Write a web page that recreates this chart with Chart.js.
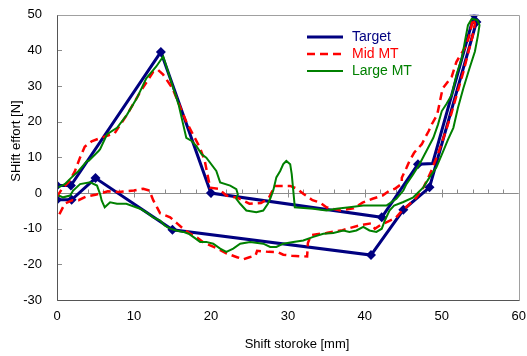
<!DOCTYPE html>
<html>
<head>
<meta charset="utf-8">
<script src="https://cdn.jsdelivr.net/npm/chart.js@4/dist/chart.umd.min.js"></script>
<style>
html, body { margin: 0; padding: 0; background: #fff }
canvas { display: block }
</style>
</head>
<body>
<canvas id="chart" width="527" height="356"></canvas>
<script>
// series (x = shift stroke mm, y = effort N)
const targetX = [0, 1.8, 13.5, 20, 42.2, 46.9, 48.8, 54.2, 54.5, 48.4, 45, 40.8, 15, 5, 1.9, 0]
const targetY = [2.1, 2.1, 39.6, 0, -6.8, 8.1, 8.3, 50, 48, 1.6, -4.7, -17.4, -10.3, 4.2, -1.9, -1.9]

const midX = [0, 0.6, 1.5, 2.3, 3, 3.6, 4.5, 5.6, 7.5, 9.1, 10.8, 12.5, 13.1, 13.8, 15, 16.8, 18.6, 19.2, 19.9, 21, 22, 23.4, 25, 26.5, 27.5, 28.3, 29.4, 30.3, 31.2, 32, 33.2, 34.2, 35, 36.8, 38.5, 39.7, 41, 42.3, 43.2, 43.9, 44.8, 44.8, 45.4, 45.8, 46.4, 47.4, 47.8, 48.3, 48.7, 49.4, 50.1, 51.3, 51.9, 52.7, 53.2, 53.7, 54,
  54.3, 54, 53.5, 52.8, 52, 51.2, 50.3, 49.5, 48.6, 47.6, 46.6, 45.6, 44.6, 44, 43, 42, 41.3, 40.8, 39.4, 37.1, 35, 33, 32.6, 32.5, 30.5, 29.4, 28.7, 27.5, 26, 25.8, 25, 24.2, 23.4, 22, 20.8, 19.9, 19, 18.2, 17.3, 16.4, 15.6, 14.7, 13.4, 13, 12.5, 12, 11.2, 10, 8, 6.6, 5, 3.8, 2.8, 2, 1, 0.3]
const midY = [-1, 1, 3, 6, 10, 13, 14.5, 15.4, 16.8, 22, 28.3, 34, 34.6, 33.2, 29.4, 20, 12.6, 9, 1.5, 1.2, -0.7, -1.3, -3, -2.8, -1.5, 2, 2, 2, 1.2, -0.2, -2, -2.7, -4, -4.9, -4.3, -2.7, -1.6, -0.7, 0.7, 1.2, 2.6, 4.3, 7, 9, 11.3, 13.7, 15.4, 17.4, 19.3, 22, 29.3, 32.7, 36.8, 39.7, 41.6, 45, 48.9,
  47.5, 44, 40, 34, 28, 22, 16, 11, 6, 1.5, -1.5, -3.5, -5.5, -7, -8, -9, -10, -8.5, -9, -10.4, -11.2, -11.8, -14, -17.8, -17.6, -17.3, -16.6, -16.5, -16.2, -17.5, -18, -18.6, -18, -16.9, -15.5, -14.7, -13.8, -12.5, -11.4, -10, -8.5, -6.8, -5.7, -4, -2, 0.7, 1.2, 0.7, 0.3, 0.5, -0.5, -1, -2, -2, -3, -6]

const largeX = [0.2, 1, 1.9, 2.8, 3.9, 4.1, 5.4, 5.6, 6.5, 7.8, 9.1, 10.4, 11.6, 12.9, 13.8, 14.7, 15.8, 16.4, 16.8, 17.5, 18.1, 18.8, 19.4, 20.7, 21.2, 22.5, 23.3, 23.5, 23.3, 23.8, 24.6, 25.9, 26.8, 27.4, 27.7, 28.1, 28.5, 29, 29.4, 29.8, 30.3, 30.5, 30.7, 30.9, 33.3, 35, 36.3, 38, 39.8, 41.5, 42.8, 44.1, 45, 45.4, 46.2, 47.1, 48, 48.9, 49.5, 50, 50.6, 51.3, 51.9, 52.6, 53, 53.4, 53.9,
  54.6, 54.9, 54.7, 54.3, 53.6, 52.8, 52.1, 51.5, 50.8, 50.2, 49.3, 48.4, 47.6, 46.3, 45, 43.8, 43.2, 42.6, 42.2, 41.5, 40.6, 39.8, 38.9, 38, 37.2, 35.9, 34.6, 33.3, 32, 30.7, 29.4, 28.5, 27.7, 26.8, 25.1, 23.8, 22.9, 22, 21.2, 20.3, 19.4, 18.6, 17.7, 17.1, 16.4, 15.5, 14.7, 14, 13.4, 12.5, 11.6, 10.8, 9, 7.8, 6.9, 6.2, 5.8, 5.6, 5.2, 4.3, 3, 2.1, 1.7, 0.8, 0.2]
const largeY = [1.6, 2.5, 4.4, 6.2, 9, 9, 11.8, 12.3, 16.5, 18.3, 22, 26.7, 32.2, 35.5, 38.3, 32.2, 24.8, 19.2, 15.5, 14.6, 13.2, 10.9, 9.9, 6.2, 3, 2.1, 1.1, -0.3, -1.6, -3, -4.9, -5.4, -4.9, -3, -1.6, 0.7, 4.4, 6.2, 8.1, 9, 8.1, 5.3, 0.7, -4, -4.4, -4.9, -4.4, -4, -3.5, -3.5, -3.5, -1.6, 0.7, 2.5, 5, 8.1, 11.8, 15.5, 19.2, 23, 25, 27.6, 33.2, 37.8, 42.5, 47.1, 48.9,
  48.5, 47.1, 44.3, 39.7, 35, 29.4, 23.9, 18.3, 15, 11.8, 7.2, 4.4, 1.6, -1.2, -2.5, -3.5, -4.9, -7.7, -10, -10.9, -10.5, -9.5, -10.5, -10.9, -10.5, -11.2, -11.4, -12.3, -13.3, -13.7, -14.2, -15.1, -15.1, -14.2, -13.7, -14.2, -15.6, -16.5, -15.6, -14.2, -13.7, -13.7, -12.3, -11.4, -10.9, -10.5, -10, -9.1, -7.7, -6.8, -5.4, -4.4, -3, -3, -2.6, -4, -2.1, -0.3, 2.1, 3, 2.5, 0.7, -0.7, -1.2, -0.7]

const seriesNames = ["Target", "Mid MT", "Large MT"]
const xTicks = [0, 10, 20, 30, 40, 50, 60]
const yTicks = [-30, -20, -10, 0, 10, 20, 30, 40, 50]
const xTitle = "Shift storoke [mm]"
const yTitle = "SHift effort [N]"

const NAVY = "#000080", RED = "#ff0000", GREEN = "#008000"
const FONT = "'Liberation Sans', Arial, sans-serif"

const toPts = (xs, ys) => xs.map((x, i) => ({ x, y: ys[i] }))

// zero line, plot frame, inside ticks, axis titles and the floating legend
const frame = {
  id: "frame",
  beforeDatasetsDraw(chart) {
    const { ctx, chartArea: a, scales: { x, y } } = chart
    const y0 = Math.round(y.getPixelForValue(0)) + 0.5
    ctx.save()
    ctx.strokeStyle = "#8c8c8c"
    ctx.lineWidth = 1
    ctx.beginPath()
    ctx.moveTo(a.left, y0); ctx.lineTo(a.right, y0)
    for (let v = 0; v <= 60; v += 2) {
      const px = Math.round(x.getPixelForValue(v)) + 0.5
      if (v % 10 === 0) { ctx.moveTo(px, y0 - 4); ctx.lineTo(px, y0 + 4) }
      else { ctx.moveTo(px, y0 - 4); ctx.lineTo(px, y0) }
    }
    yTicks.forEach(v => {
      const py = Math.round(y.getPixelForValue(v)) + 0.5
      ctx.moveTo(a.left, py); ctx.lineTo(a.left + 5, py)
    })
    ctx.stroke()
    ctx.restore()
  },
  afterDraw(chart) {
    const { ctx, chartArea: a } = chart
    const L = Math.round(a.left) + 0.5, R = Math.round(a.right) + 0.5
    const T = Math.round(a.top) + 0.5, B = Math.round(a.bottom) + 0.5
    ctx.save()
    ctx.lineWidth = 1
    ctx.strokeStyle = "#a0a0a0"
    ctx.beginPath()
    ctx.moveTo(L, T); ctx.lineTo(R, T); ctx.lineTo(R, B)
    ctx.stroke()
    ctx.strokeStyle = "#555"
    ctx.beginPath()
    ctx.moveTo(L, T); ctx.lineTo(L, B); ctx.lineTo(R, B)
    ctx.stroke()

    // axis titles
    ctx.fillStyle = "#000"
    ctx.font = "13px " + FONT
    ctx.textAlign = "center"
    ctx.textBaseline = "middle"
    ctx.fillText(xTitle, 297, 344)
    ctx.save()
    ctx.translate(16, 141)
    ctx.rotate(-Math.PI / 2)
    ctx.fillText(yTitle, 0, 0)
    ctx.restore()

    // legend
    ctx.font = "14px " + FONT
    ctx.textAlign = "left"
    chart.data.datasets.forEach((ds, i) => {
      const ly = 37 + i * 17
      ctx.strokeStyle = ds.borderColor
      ctx.lineWidth = ds.borderWidth
      ctx.setLineDash(ds.borderDash || [])
      ctx.beginPath()
      ctx.moveTo(307, ly); ctx.lineTo(343, ly)
      ctx.stroke()
      ctx.setLineDash([])
      ctx.fillStyle = ds.borderColor
      ctx.fillText(ds.label, 352, ly)
    })
    ctx.restore()
  }
}

new Chart(document.getElementById("chart"), {
  type: "line",
  data: {
    datasets: [
      {
        label: seriesNames[0],
        data: toPts(targetX, targetY),
        borderColor: NAVY,
        backgroundColor: NAVY,
        borderWidth: 3,
        pointStyle: "rectRot",
        pointRadius: c => c.dataIndex === 6 ? 0 : 5,
        pointBorderWidth: 0,
        order: 3
      },
      {
        label: seriesNames[1],
        data: toPts(midX, midY),
        borderColor: RED,
        borderWidth: 2.5,
        borderDash: [8, 5],
        pointRadius: 0,
        order: 2
      },
      {
        label: seriesNames[2],
        data: toPts(largeX, largeY),
        borderColor: GREEN,
        borderWidth: 2,
        pointRadius: 0,
        order: 1
      }
    ]
  },
  options: {
    responsive: false,
    animation: false,
    devicePixelRatio: 1,
    layout: { padding: { top: 9, right: 8, left: 0, bottom: 0 } },
    elements: { line: { tension: 0, fill: false } },
    plugins: { legend: { display: false }, tooltip: { enabled: false } },
    scales: {
      x: {
        type: "linear",
        min: 0, max: 60,
        afterBuildTicks: s => { s.ticks = xTicks.map(v => ({ value: v })) },
        afterFit: s => { s.height = 56 },
        grid: { display: false },
        border: { display: false },
        ticks: { color: "#000", padding: 1, font: { family: FONT, size: 13 } }
      },
      y: {
        min: -30, max: 50,
        afterBuildTicks: s => { s.ticks = yTicks.map(v => ({ value: v })) },
        afterFit: s => { s.width = 57 },
        grid: { display: false },
        border: { display: false },
        ticks: { color: "#000", padding: 7, font: { family: FONT, size: 13 } }
      }
    }
  },
  plugins: [frame]
})
</script>
</body>
</html>
